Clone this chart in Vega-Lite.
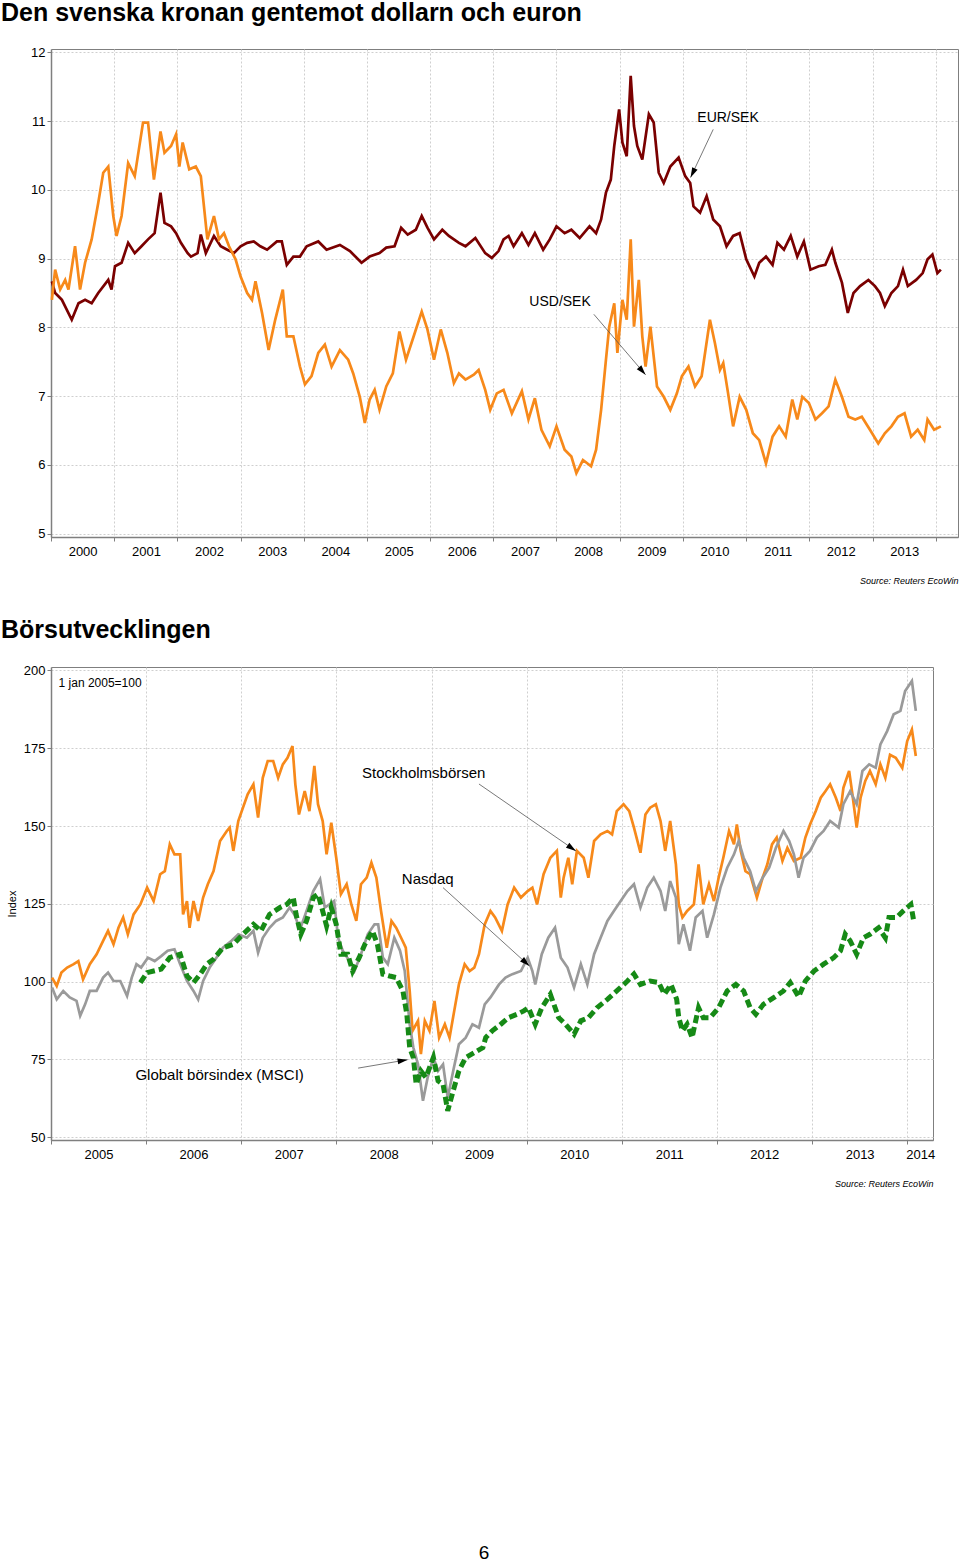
{
"$schema":"https://vega.github.io/schema/vega-lite/v6.json",
"background":"white",
"padding":0,
"autosize":{"type":"pad"},
"config":{"font":"Liberation Sans","view":{"stroke":"#7f7f7f","strokeWidth":1},"axis":{"domainColor":"#7f7f7f","tickColor":"#7f7f7f","gridColor":"#cfcfcf","gridDash":[2,2],"gridWidth":1,"labelColor":"#000","labelFontSize":13,"labelFont":"Liberation Sans","titleColor":"#000","titleFont":"Liberation Sans","labelFlush":false,"labelOverlap":false,"domainWidth":1.5}},
"title":{"text":"6","orient":"bottom","anchor":"middle","fontSize":19,"fontWeight":"normal","color":"#000","offset":355,"baseline":"top"},
"spacing":31,
"vconcat":[
{
"width":907,"height":488,
"title":{"text":"Den svenska kronan gentemot dollarn och euron","anchor":"start","frame":"group","dx":-50,"fontSize":25,"fontWeight":"bold","color":"#000","offset":0,"baseline":"alphabetic"},
"layer":[
{"data":{"name":"eur"},"mark":{"type":"line","color":"#7a0000","strokeWidth":2.7},
 "encoding":{"x":{"field":"d","type":"temporal","scale":{"type":"utc","domain":[{"year":2000,"month":1,"date":1,"utc":true},{"year":2014,"month":5,"date":10,"utc":true}]},
   "axis":{"title":"Source: Reuters EcoWin","titleAnchor":"end","titleFontStyle":"italic","titleFontWeight":"normal","titleFontSize":9,"titlePadding":18,"tickCount":{"interval":"year","step":1},"labelExpr":"utcyear(datum.value) < 2014 ? utcFormat(datum.value, '%Y') : ''","labelOffset":31.6,"labelAlign":"center","labelPadding":4,"tickSize":4,"grid":true}},
  "y":{"field":"v","type":"quantitative","scale":{"domain":[4.95,12.05],"nice":false,"zero":false},"axis":{"title":null,"values":[5,6,7,8,9,10,11,12],"format":"d","grid":true,"tickSize":4,"labelPadding":2}}}},
{"data":{"name":"usd"},"mark":{"type":"line","color":"#f7891a","strokeWidth":2.7},
 "encoding":{"x":{"field":"d","type":"temporal"},"y":{"field":"v","type":"quantitative"}}},
{"data":{"name":"arrowsTop"},"mark":{"type":"rule","color":"#555","strokeWidth":0.8},
 "encoding":{"x":{"field":"d","type":"temporal"},"x2":{"field":"d2"},"y":{"field":"v","type":"quantitative"},"y2":{"field":"v2"}}},
{"data":{"name":"arrowsTop"},"transform":[{"filter":"datum.name == 'EUR'"}],"mark":{"type":"point","shape":"M0,0L-0.3,1L0.3,1Z","filled":true,"color":"#000","opacity":1,"size":400,"angle":205.8},
 "encoding":{"x":{"field":"d2","type":"temporal"},"y":{"field":"v2","type":"quantitative"}}},
{"data":{"name":"arrowsTop"},"transform":[{"filter":"datum.name == 'USD'"}],"mark":{"type":"point","shape":"M0,0L-0.3,1L0.3,1Z","filled":true,"color":"#000","opacity":1,"size":400,"angle":139.3},
 "encoding":{"x":{"field":"d2","type":"temporal"},"y":{"field":"v2","type":"quantitative"}}},
{"data":{"name":"labelsTop"},"mark":{"type":"text","align":"left","baseline":"middle","fontSize":14,"color":"#000"},
 "encoding":{"x":{"field":"d","type":"temporal"},"y":{"field":"v","type":"quantitative"},"text":{"field":"label"}}}
]
},
{
"width":882,"height":473,
"title":{"text":"Börsutvecklingen","anchor":"start","frame":"group","dx":-50,"fontSize":25,"fontWeight":"bold","color":"#000","offset":1,"baseline":"alphabetic"},
"layer":[
{"data":{"name":"omx"},"mark":{"type":"line","color":"#f7891a","strokeWidth":2.7},
 "encoding":{"x":{"field":"d","type":"temporal","scale":{"type":"utc","domain":[{"year":2005,"month":1,"date":1,"utc":true},{"year":2014,"month":4,"date":10,"utc":true}]},
   "axis":{"title":"Source: Reuters EcoWin","titleAnchor":"end","titleFontStyle":"italic","titleFontWeight":"normal","titleFontSize":9,"titlePadding":18,"tickCount":{"interval":"year","step":1},"labelExpr":"utcFormat(datum.value, '%Y')","labelOffset":{"condition":{"test":"utcyear(datum.value) == 2014","value":13},"value":47.5},"labelAlign":"center","labelPadding":4,"tickSize":4,"grid":true}},
  "y":{"field":"v","type":"quantitative","scale":{"domain":[49.1,201.1],"nice":false,"zero":false},"axis":{"title":"Index","titleFontSize":11,"titleFontWeight":"normal","titlePadding":6,"values":[50,75,100,125,150,175,200],"format":"d","grid":true,"tickSize":4,"labelPadding":2}}}},
{"data":{"name":"nasdaq"},"mark":{"type":"line","color":"#9a9a9a","strokeWidth":2.7},
 "encoding":{"x":{"field":"d","type":"temporal"},"y":{"field":"v","type":"quantitative"}}},
{"data":{"name":"msci"},"mark":{"type":"line","color":"#168a16","strokeWidth":5,"strokeDash":[8,4],"strokeCap":"butt"},
 "encoding":{"x":{"field":"d","type":"temporal"},"y":{"field":"v","type":"quantitative"}}},
{"data":{"name":"arrowsBot"},"mark":{"type":"rule","color":"#555","strokeWidth":0.8},
 "encoding":{"x":{"field":"d","type":"temporal"},"x2":{"field":"d2"},"y":{"field":"v","type":"quantitative"},"y2":{"field":"v2"}}},
{"data":{"name":"arrowsBot"},"transform":[{"filter":"datum.name == 'OMX'"}],"mark":{"type":"point","shape":"M0,0L-0.3,1L0.3,1Z","filled":true,"color":"#000","opacity":1,"size":400,"angle":124.6},
 "encoding":{"x":{"field":"d2","type":"temporal"},"y":{"field":"v2","type":"quantitative"}}},
{"data":{"name":"arrowsBot"},"transform":[{"filter":"datum.name == 'NAS'"}],"mark":{"type":"point","shape":"M0,0L-0.3,1L0.3,1Z","filled":true,"color":"#000","opacity":1,"size":400,"angle":132.1},
 "encoding":{"x":{"field":"d2","type":"temporal"},"y":{"field":"v2","type":"quantitative"}}},
{"data":{"name":"arrowsBot"},"transform":[{"filter":"datum.name == 'MSCI'"}],"mark":{"type":"point","shape":"M0,0L-0.3,1L0.3,1Z","filled":true,"color":"#000","opacity":1,"size":400,"angle":80.6},
 "encoding":{"x":{"field":"d2","type":"temporal"},"y":{"field":"v2","type":"quantitative"}}},
{"data":{"name":"labelsBot"},"transform":[{"filter":"datum.size == 'big'"}],"mark":{"type":"text","align":"left","baseline":"middle","fontSize":15,"color":"#000"},
 "encoding":{"x":{"field":"d","type":"temporal"},"y":{"field":"v","type":"quantitative"},"text":{"field":"label"}}},
{"data":{"name":"labelsBot"},"transform":[{"filter":"datum.size == 'small'"}],"mark":{"type":"text","align":"left","baseline":"middle","fontSize":12,"color":"#000"},
 "encoding":{"x":{"field":"d","type":"temporal"},"y":{"field":"v","type":"quantitative"},"text":{"field":"label"}}}
]
}
],
"datasets":{
"arrowsTop":[{"name":"EUR","d":"2010-06-25","v":10.88,"d2":"2010-02-14","v2":10.18},{"name":"USD","d":"2008-08-04","v":8.19,"d2":"2009-05-30","v2":7.31}],
"labelsTop":[{"label":"EUR/SEK","d":"2010-03-25","v":11.05},{"label":"USD/SEK","d":"2007-07-28","v":8.37}],
"arrowsBot":[{"name":"OMX","d":"2009-07-02","v":163.5,"d2":"2010-07-09","v2":142.0},{"name":"NAS","d":"2009-02-14","v":130.2,"d2":"2010-01-12","v2":105.0},{"name":"MSCI","d":"2008-03-25","v":72.2,"d2":"2008-10-01","v2":74.9}],
"labelsBot":[{"label":"1 jan 2005=100","size":"small","d":"2005-01-30","v":196.0},{"label":"Stockholmsbörsen","size":"big","d":"2008-04-09","v":167.1},{"label":"Nasdaq","size":"big","d":"2008-09-09","v":133.0},{"label":"Globalt börsindex (MSCI)","size":"big","d":"2005-11-21","v":70.0}],
"eur":[{"d":"2000-01-06","v":8.67},{"d":"2000-01-25","v":8.50},{"d":"2000-03-04","v":8.40},{"d":"2000-04-30","v":8.11},{"d":"2000-06-08","v":8.35},{"d":"2000-07-16","v":8.40},{"d":"2000-08-23","v":8.35},{"d":"2000-09-30","v":8.50},{"d":"2000-11-27","v":8.69},{"d":"2000-12-16","v":8.55},{"d":"2001-01-05","v":8.89},{"d":"2001-02-12","v":8.94},{"d":"2001-03-22","v":9.23},{"d":"2001-04-29","v":9.08},{"d":"2001-06-07","v":9.18},{"d":"2001-07-15","v":9.28},{"d":"2001-08-22","v":9.37},{"d":"2001-09-25","v":9.96},{"d":"2001-10-18","v":9.52},{"d":"2001-11-25","v":9.47},{"d":"2001-12-24","v":9.37},{"d":"2002-01-21","v":9.23},{"d":"2002-03-01","v":9.08},{"d":"2002-03-20","v":9.03},{"d":"2002-04-27","v":9.08},{"d":"2002-05-16","v":9.35},{"d":"2002-06-14","v":9.08},{"d":"2002-07-31","v":9.33},{"d":"2002-09-08","v":9.18},{"d":"2002-10-16","v":9.13},{"d":"2002-11-23","v":9.08},{"d":"2003-01-01","v":9.18},{"d":"2003-02-08","v":9.23},{"d":"2003-03-18","v":9.25},{"d":"2003-04-25","v":9.18},{"d":"2003-06-03","v":9.13},{"d":"2003-07-30","v":9.25},{"d":"2003-08-27","v":9.25},{"d":"2003-09-25","v":8.91},{"d":"2003-11-02","v":9.03},{"d":"2003-12-10","v":9.03},{"d":"2004-01-18","v":9.18},{"d":"2004-03-25","v":9.25},{"d":"2004-05-12","v":9.13},{"d":"2004-07-28","v":9.20},{"d":"2004-09-24","v":9.11},{"d":"2004-11-30","v":8.94},{"d":"2005-01-16","v":9.03},{"d":"2005-03-14","v":9.08},{"d":"2005-04-22","v":9.16},{"d":"2005-06-09","v":9.18},{"d":"2005-07-17","v":9.45},{"d":"2005-08-24","v":9.35},{"d":"2005-10-10","v":9.42},{"d":"2005-11-13","v":9.62},{"d":"2005-12-16","v":9.45},{"d":"2006-01-23","v":9.28},{"d":"2006-03-12","v":9.42},{"d":"2006-04-19","v":9.33},{"d":"2006-06-16","v":9.23},{"d":"2006-07-24","v":9.18},{"d":"2006-09-19","v":9.30},{"d":"2006-11-15","v":9.08},{"d":"2006-12-23","v":9.01},{"d":"2007-01-31","v":9.11},{"d":"2007-03-01","v":9.28},{"d":"2007-03-30","v":9.33},{"d":"2007-04-28","v":9.18},{"d":"2007-06-15","v":9.37},{"d":"2007-07-23","v":9.20},{"d":"2007-08-29","v":9.37},{"d":"2007-10-16","v":9.13},{"d":"2007-11-23","v":9.28},{"d":"2008-01-01","v":9.47},{"d":"2008-02-17","v":9.37},{"d":"2008-03-27","v":9.42},{"d":"2008-05-14","v":9.30},{"d":"2008-07-10","v":9.47},{"d":"2008-08-17","v":9.37},{"d":"2008-09-15","v":9.57},{"d":"2008-10-13","v":9.96},{"d":"2008-11-10","v":10.15},{"d":"2008-11-30","v":10.64},{"d":"2008-12-28","v":11.17},{"d":"2009-01-16","v":10.69},{"d":"2009-02-10","v":10.49},{"d":"2009-03-05","v":11.66},{"d":"2009-03-24","v":10.93},{"d":"2009-04-12","v":10.64},{"d":"2009-05-11","v":10.44},{"d":"2009-06-18","v":11.10},{"d":"2009-07-16","v":10.98},{"d":"2009-08-14","v":10.25},{"d":"2009-09-12","v":10.10},{"d":"2009-10-20","v":10.34},{"d":"2009-12-07","v":10.47},{"d":"2010-01-14","v":10.20},{"d":"2010-02-12","v":10.10},{"d":"2010-03-03","v":9.76},{"d":"2010-04-10","v":9.67},{"d":"2010-05-18","v":9.91},{"d":"2010-06-25","v":9.57},{"d":"2010-08-03","v":9.47},{"d":"2010-09-10","v":9.18},{"d":"2010-10-18","v":9.33},{"d":"2010-11-25","v":9.37},{"d":"2011-01-02","v":8.99},{"d":"2011-02-18","v":8.74},{"d":"2011-03-18","v":8.94},{"d":"2011-04-26","v":9.03},{"d":"2011-06-03","v":8.91},{"d":"2011-07-01","v":9.23},{"d":"2011-08-08","v":9.13},{"d":"2011-09-16","v":9.33},{"d":"2011-10-24","v":9.03},{"d":"2011-12-01","v":9.25},{"d":"2012-01-08","v":8.84},{"d":"2012-02-25","v":8.89},{"d":"2012-04-03","v":8.91},{"d":"2012-05-11","v":9.13},{"d":"2012-05-31","v":8.94},{"d":"2012-07-08","v":8.65},{"d":"2012-08-11","v":8.21},{"d":"2012-09-13","v":8.50},{"d":"2012-10-21","v":8.60},{"d":"2012-12-08","v":8.69},{"d":"2013-01-15","v":8.60},{"d":"2013-02-13","v":8.50},{"d":"2013-03-13","v":8.31},{"d":"2013-04-20","v":8.50},{"d":"2013-05-28","v":8.60},{"d":"2013-06-26","v":8.84},{"d":"2013-07-24","v":8.60},{"d":"2013-09-10","v":8.69},{"d":"2013-10-18","v":8.79},{"d":"2013-11-15","v":8.99},{"d":"2013-12-13","v":9.06},{"d":"2014-01-11","v":8.79},{"d":"2014-01-31","v":8.84}],
"usd":[{"d":"2000-01-06","v":8.40},{"d":"2000-01-25","v":8.84},{"d":"2000-02-23","v":8.55},{"d":"2000-03-23","v":8.69},{"d":"2000-04-11","v":8.55},{"d":"2000-05-19","v":9.18},{"d":"2000-06-17","v":8.55},{"d":"2000-07-16","v":8.94},{"d":"2000-08-23","v":9.28},{"d":"2000-09-30","v":9.81},{"d":"2000-10-29","v":10.25},{"d":"2000-11-27","v":10.34},{"d":"2000-12-26","v":9.62},{"d":"2001-01-14","v":9.33},{"d":"2001-02-12","v":9.62},{"d":"2001-03-22","v":10.39},{"d":"2001-04-29","v":10.20},{"d":"2001-06-16","v":10.98},{"d":"2001-07-15","v":10.98},{"d":"2001-08-18","v":10.15},{"d":"2001-09-25","v":10.85},{"d":"2001-10-18","v":10.54},{"d":"2001-11-25","v":10.64},{"d":"2001-12-24","v":10.81},{"d":"2002-01-12","v":10.34},{"d":"2002-01-31","v":10.69},{"d":"2002-03-10","v":10.30},{"d":"2002-04-17","v":10.34},{"d":"2002-05-16","v":10.20},{"d":"2002-06-23","v":9.28},{"d":"2002-07-31","v":9.62},{"d":"2002-08-29","v":9.28},{"d":"2002-09-27","v":9.37},{"d":"2002-10-26","v":9.18},{"d":"2002-12-03","v":8.99},{"d":"2003-01-01","v":8.74},{"d":"2003-02-08","v":8.50},{"d":"2003-03-08","v":8.40},{"d":"2003-03-28","v":8.67},{"d":"2003-05-05","v":8.21},{"d":"2003-06-12","v":7.67},{"d":"2003-07-20","v":8.11},{"d":"2003-09-02","v":8.55},{"d":"2003-09-25","v":7.87},{"d":"2003-11-02","v":7.87},{"d":"2003-12-10","v":7.43},{"d":"2004-01-08","v":7.17},{"d":"2004-02-15","v":7.29},{"d":"2004-03-25","v":7.63},{"d":"2004-05-02","v":7.75},{"d":"2004-06-10","v":7.43},{"d":"2004-07-28","v":7.67},{"d":"2004-09-14","v":7.53},{"d":"2004-10-13","v":7.33},{"d":"2004-11-20","v":6.99},{"d":"2004-12-19","v":6.61},{"d":"2005-01-16","v":6.95},{"d":"2005-02-14","v":7.09},{"d":"2005-03-14","v":6.80},{"d":"2005-04-22","v":7.14},{"d":"2005-05-30","v":7.33},{"d":"2005-07-07","v":7.94},{"d":"2005-08-14","v":7.53},{"d":"2005-09-21","v":7.82},{"d":"2005-11-13","v":8.23},{"d":"2005-12-16","v":7.97},{"d":"2006-01-23","v":7.53},{"d":"2006-03-03","v":7.97},{"d":"2006-04-10","v":7.63},{"d":"2006-05-18","v":7.19},{"d":"2006-06-16","v":7.33},{"d":"2006-07-24","v":7.24},{"d":"2006-09-10","v":7.31},{"d":"2006-10-08","v":7.38},{"d":"2006-11-15","v":7.09},{"d":"2006-12-14","v":6.80},{"d":"2007-01-21","v":7.04},{"d":"2007-03-01","v":7.09},{"d":"2007-04-18","v":6.75},{"d":"2007-06-15","v":7.07},{"d":"2007-07-23","v":6.66},{"d":"2007-08-29","v":6.97},{"d":"2007-10-06","v":6.51},{"d":"2007-11-23","v":6.27},{"d":"2008-01-01","v":6.56},{"d":"2008-02-17","v":6.22},{"d":"2008-03-27","v":6.12},{"d":"2008-04-25","v":5.88},{"d":"2008-06-02","v":6.07},{"d":"2008-07-19","v":5.98},{"d":"2008-08-17","v":6.22},{"d":"2008-09-15","v":6.80},{"d":"2008-10-13","v":7.53},{"d":"2008-11-01","v":8.01},{"d":"2008-11-30","v":8.35},{"d":"2008-12-18","v":7.63},{"d":"2009-01-16","v":8.40},{"d":"2009-02-10","v":8.11},{"d":"2009-03-05","v":9.28},{"d":"2009-03-24","v":8.01},{"d":"2009-04-21","v":8.69},{"d":"2009-05-11","v":7.87},{"d":"2009-05-30","v":7.43},{"d":"2009-06-27","v":8.01},{"d":"2009-08-04","v":7.14},{"d":"2009-09-12","v":6.99},{"d":"2009-10-20","v":6.80},{"d":"2009-11-27","v":7.04},{"d":"2009-12-26","v":7.29},{"d":"2010-02-02","v":7.43},{"d":"2010-03-12","v":7.14},{"d":"2010-04-19","v":7.29},{"d":"2010-06-06","v":8.11},{"d":"2010-07-05","v":7.77},{"d":"2010-08-03","v":7.38},{"d":"2010-08-22","v":7.48},{"d":"2010-09-19","v":7.04},{"d":"2010-10-18","v":6.56},{"d":"2010-11-25","v":6.99},{"d":"2011-01-02","v":6.80},{"d":"2011-02-09","v":6.46},{"d":"2011-03-18","v":6.36},{"d":"2011-04-26","v":6.02},{"d":"2011-06-03","v":6.41},{"d":"2011-07-11","v":6.56},{"d":"2011-08-18","v":6.41},{"d":"2011-09-25","v":6.95},{"d":"2011-10-24","v":6.66},{"d":"2011-11-22","v":6.99},{"d":"2011-12-30","v":6.90},{"d":"2012-02-06","v":6.66},{"d":"2012-03-15","v":6.75},{"d":"2012-04-22","v":6.85},{"d":"2012-05-31","v":7.24},{"d":"2012-07-08","v":6.99},{"d":"2012-08-15","v":6.70},{"d":"2012-09-23","v":6.66},{"d":"2012-10-31","v":6.70},{"d":"2012-12-17","v":6.51},{"d":"2013-02-03","v":6.31},{"d":"2013-03-13","v":6.46},{"d":"2013-04-20","v":6.56},{"d":"2013-05-28","v":6.70},{"d":"2013-07-05","v":6.75},{"d":"2013-08-12","v":6.41},{"d":"2013-09-19","v":6.51},{"d":"2013-10-27","v":6.36},{"d":"2013-11-15","v":6.66},{"d":"2013-12-23","v":6.51},{"d":"2014-01-31","v":6.56}],
"omx":[{"d":"2005-01-05","v":101.3},{"d":"2005-01-23","v":98.6},{"d":"2005-02-10","v":102.9},{"d":"2005-03-04","v":104.5},{"d":"2005-03-29","v":105.6},{"d":"2005-04-16","v":106.6},{"d":"2005-05-04","v":100.7},{"d":"2005-05-30","v":105.6},{"d":"2005-06-25","v":108.8},{"d":"2005-07-20","v":113.1},{"d":"2005-08-08","v":116.3},{"d":"2005-08-29","v":112.0},{"d":"2005-09-17","v":117.3},{"d":"2005-10-05","v":120.6},{"d":"2005-10-23","v":115.2},{"d":"2005-11-14","v":121.6},{"d":"2005-12-10","v":124.8},{"d":"2006-01-05","v":130.2},{"d":"2006-01-30","v":125.9},{"d":"2006-02-24","v":134.5},{"d":"2006-03-14","v":135.5},{"d":"2006-04-02","v":144.1},{"d":"2006-04-20","v":140.9},{"d":"2006-05-12","v":140.9},{"d":"2006-05-23","v":121.6},{"d":"2006-06-07","v":125.9},{"d":"2006-06-17","v":117.3},{"d":"2006-07-02","v":125.9},{"d":"2006-07-20","v":119.5},{"d":"2006-08-08","v":127.0},{"d":"2006-08-26","v":131.3},{"d":"2006-09-17","v":135.5},{"d":"2006-10-12","v":145.2},{"d":"2006-11-07","v":148.4},{"d":"2006-11-18","v":149.5},{"d":"2006-12-02","v":142.0},{"d":"2006-12-21","v":151.6},{"d":"2007-01-08","v":155.9},{"d":"2007-01-26","v":160.2},{"d":"2007-02-17","v":163.4},{"d":"2007-03-07","v":152.7},{"d":"2007-03-25","v":165.5},{"d":"2007-04-13","v":170.9},{"d":"2007-05-04","v":170.9},{"d":"2007-05-23","v":165.5},{"d":"2007-06-10","v":169.8},{"d":"2007-06-28","v":171.9},{"d":"2007-07-17","v":175.7},{"d":"2007-07-28","v":163.4},{"d":"2007-08-11","v":153.7},{"d":"2007-09-02","v":161.2},{"d":"2007-09-20","v":154.8},{"d":"2007-10-09","v":169.3},{"d":"2007-10-23","v":157.0},{"d":"2007-11-10","v":151.6},{"d":"2007-11-25","v":140.9},{"d":"2007-12-13","v":151.1},{"d":"2008-01-01","v":139.8},{"d":"2008-01-19","v":128.1},{"d":"2008-02-10","v":131.3},{"d":"2008-02-28","v":124.8},{"d":"2008-03-18","v":119.5},{"d":"2008-04-05","v":131.3},{"d":"2008-04-27","v":133.4},{"d":"2008-05-15","v":138.2},{"d":"2008-06-03","v":133.4},{"d":"2008-06-21","v":122.7},{"d":"2008-07-13","v":110.9},{"d":"2008-07-31","v":119.5},{"d":"2008-08-18","v":117.3},{"d":"2008-09-06","v":114.1},{"d":"2008-09-24","v":110.9},{"d":"2008-10-09","v":97.0},{"d":"2008-10-20","v":84.2},{"d":"2008-11-10","v":87.4},{"d":"2008-11-21","v":76.7},{"d":"2008-12-06","v":87.4},{"d":"2008-12-24","v":84.2},{"d":"2009-01-12","v":93.8},{"d":"2009-01-30","v":82.0},{"d":"2009-02-21","v":86.3},{"d":"2009-03-11","v":82.0},{"d":"2009-03-29","v":90.6},{"d":"2009-04-16","v":99.1},{"d":"2009-05-08","v":105.6},{"d":"2009-05-27","v":103.4},{"d":"2009-06-14","v":104.5},{"d":"2009-07-02","v":108.8},{"d":"2009-07-24","v":118.4},{"d":"2009-08-15","v":122.7},{"d":"2009-09-02","v":120.6},{"d":"2009-09-28","v":116.3},{"d":"2009-10-20","v":124.8},{"d":"2009-11-14","v":130.2},{"d":"2009-12-10","v":127.0},{"d":"2010-01-05","v":129.1},{"d":"2010-01-23","v":130.2},{"d":"2010-02-10","v":124.8},{"d":"2010-03-07","v":134.5},{"d":"2010-04-02","v":139.8},{"d":"2010-04-27","v":142.0},{"d":"2010-05-12","v":127.0},{"d":"2010-05-23","v":133.4},{"d":"2010-06-10","v":139.8},{"d":"2010-06-25","v":131.3},{"d":"2010-07-13","v":142.0},{"d":"2010-08-08","v":139.8},{"d":"2010-08-26","v":133.4},{"d":"2010-09-17","v":145.2},{"d":"2010-10-12","v":147.3},{"d":"2010-11-07","v":148.4},{"d":"2010-11-25","v":147.3},{"d":"2010-12-13","v":154.8},{"d":"2011-01-08","v":157.0},{"d":"2011-01-30","v":154.8},{"d":"2011-02-17","v":149.5},{"d":"2011-03-14","v":141.4},{"d":"2011-04-02","v":153.7},{"d":"2011-04-20","v":155.9},{"d":"2011-05-12","v":157.0},{"d":"2011-05-30","v":151.6},{"d":"2011-06-17","v":142.0},{"d":"2011-07-06","v":151.6},{"d":"2011-07-28","v":137.7},{"d":"2011-08-08","v":124.8},{"d":"2011-08-22","v":120.6},{"d":"2011-09-09","v":122.7},{"d":"2011-10-05","v":124.8},{"d":"2011-10-23","v":137.7},{"d":"2011-11-10","v":124.8},{"d":"2011-12-02","v":131.3},{"d":"2011-12-21","v":125.9},{"d":"2012-01-08","v":133.4},{"d":"2012-01-26","v":139.8},{"d":"2012-02-17","v":148.4},{"d":"2012-03-07","v":144.1},{"d":"2012-03-18","v":150.5},{"d":"2012-04-02","v":142.0},{"d":"2012-04-20","v":135.5},{"d":"2012-05-08","v":134.5},{"d":"2012-06-03","v":127.0},{"d":"2012-06-25","v":133.4},{"d":"2012-07-13","v":137.7},{"d":"2012-07-31","v":144.1},{"d":"2012-08-18","v":146.3},{"d":"2012-09-09","v":138.8},{"d":"2012-09-28","v":143.0},{"d":"2012-10-23","v":138.8},{"d":"2012-11-18","v":139.8},{"d":"2012-12-06","v":146.3},{"d":"2012-12-24","v":150.5},{"d":"2013-01-15","v":154.8},{"d":"2013-02-03","v":159.1},{"d":"2013-02-21","v":161.2},{"d":"2013-03-11","v":163.4},{"d":"2013-04-02","v":159.1},{"d":"2013-04-20","v":154.8},{"d":"2013-05-01","v":162.3},{"d":"2013-05-23","v":167.7},{"d":"2013-06-03","v":161.2},{"d":"2013-06-21","v":149.5},{"d":"2013-07-06","v":159.1},{"d":"2013-07-24","v":164.5},{"d":"2013-08-11","v":167.7},{"d":"2013-09-02","v":163.4},{"d":"2013-09-20","v":169.8},{"d":"2013-10-09","v":165.5},{"d":"2013-10-27","v":172.9},{"d":"2013-11-18","v":171.9},{"d":"2013-12-13","v":168.7},{"d":"2014-01-01","v":177.3},{"d":"2014-01-19","v":181.0},{"d":"2014-02-03","v":172.5}],
"nasdaq":[{"d":"2005-01-05","v":98.1},{"d":"2005-01-23","v":94.3},{"d":"2005-02-17","v":97.0},{"d":"2005-03-14","v":94.9},{"d":"2005-04-09","v":93.8},{"d":"2005-04-23","v":89.0},{"d":"2005-05-12","v":92.7},{"d":"2005-05-30","v":97.0},{"d":"2005-06-25","v":97.0},{"d":"2005-07-20","v":101.3},{"d":"2005-08-08","v":102.9},{"d":"2005-08-29","v":100.2},{"d":"2005-09-24","v":100.2},{"d":"2005-10-20","v":95.4},{"d":"2005-11-07","v":101.3},{"d":"2005-11-25","v":105.6},{"d":"2005-12-13","v":104.5},{"d":"2006-01-08","v":107.7},{"d":"2006-02-03","v":106.6},{"d":"2006-02-28","v":108.2},{"d":"2006-03-25","v":109.9},{"d":"2006-04-20","v":110.4},{"d":"2006-05-12","v":105.6},{"d":"2006-06-07","v":100.2},{"d":"2006-07-02","v":97.0},{"d":"2006-07-20","v":94.3},{"d":"2006-08-08","v":100.2},{"d":"2006-09-02","v":104.5},{"d":"2006-09-28","v":107.7},{"d":"2006-10-23","v":110.9},{"d":"2006-11-25","v":113.1},{"d":"2006-12-21","v":115.2},{"d":"2007-01-23","v":114.1},{"d":"2007-02-17","v":116.3},{"d":"2007-03-07","v":109.3},{"d":"2007-03-25","v":114.1},{"d":"2007-04-20","v":117.3},{"d":"2007-05-15","v":119.5},{"d":"2007-06-10","v":120.6},{"d":"2007-07-06","v":123.8},{"d":"2007-07-24","v":121.6},{"d":"2007-08-15","v":116.8},{"d":"2007-09-09","v":122.7},{"d":"2007-10-05","v":129.1},{"d":"2007-10-31","v":132.9},{"d":"2007-11-18","v":123.8},{"d":"2007-12-06","v":124.8},{"d":"2007-12-24","v":125.9},{"d":"2008-01-08","v":114.1},{"d":"2008-01-26","v":109.9},{"d":"2008-02-21","v":106.6},{"d":"2008-03-11","v":103.4},{"d":"2008-04-05","v":108.8},{"d":"2008-05-01","v":115.2},{"d":"2008-05-27","v":118.4},{"d":"2008-06-10","v":118.4},{"d":"2008-06-28","v":107.7},{"d":"2008-07-17","v":105.6},{"d":"2008-08-11","v":114.1},{"d":"2008-09-02","v":109.9},{"d":"2008-09-20","v":103.4},{"d":"2008-10-09","v":86.3},{"d":"2008-10-23","v":78.8},{"d":"2008-11-10","v":73.4},{"d":"2008-11-29","v":61.7},{"d":"2008-12-17","v":69.2},{"d":"2009-01-08","v":75.6},{"d":"2009-01-26","v":71.3},{"d":"2009-02-14","v":73.4},{"d":"2009-03-04","v":62.7},{"d":"2009-03-25","v":71.3},{"d":"2009-04-16","v":79.9},{"d":"2009-05-12","v":82.0},{"d":"2009-06-07","v":86.3},{"d":"2009-07-02","v":85.2},{"d":"2009-07-24","v":92.7},{"d":"2009-08-15","v":94.9},{"d":"2009-09-17","v":99.1},{"d":"2009-10-12","v":101.3},{"d":"2009-11-07","v":102.4},{"d":"2009-12-10","v":103.4},{"d":"2010-01-05","v":107.7},{"d":"2010-01-23","v":103.4},{"d":"2010-02-03","v":99.1},{"d":"2010-02-28","v":108.8},{"d":"2010-03-25","v":114.1},{"d":"2010-04-20","v":117.3},{"d":"2010-05-12","v":107.7},{"d":"2010-06-07","v":104.5},{"d":"2010-07-02","v":98.1},{"d":"2010-07-28","v":105.6},{"d":"2010-08-22","v":99.1},{"d":"2010-09-17","v":108.8},{"d":"2010-10-12","v":114.1},{"d":"2010-11-07","v":119.5},{"d":"2010-12-02","v":122.7},{"d":"2010-12-28","v":125.9},{"d":"2011-01-23","v":129.1},{"d":"2011-02-17","v":131.3},{"d":"2011-03-14","v":123.8},{"d":"2011-04-09","v":130.2},{"d":"2011-05-04","v":133.4},{"d":"2011-05-30","v":129.1},{"d":"2011-06-17","v":122.7},{"d":"2011-07-06","v":132.3},{"d":"2011-07-28","v":127.0},{"d":"2011-08-08","v":112.0},{"d":"2011-08-26","v":118.4},{"d":"2011-09-20","v":109.9},{"d":"2011-10-12","v":120.6},{"d":"2011-11-07","v":122.7},{"d":"2011-11-25","v":114.1},{"d":"2011-12-21","v":121.6},{"d":"2012-01-15","v":130.2},{"d":"2012-02-10","v":136.6},{"d":"2012-03-07","v":140.9},{"d":"2012-03-25","v":145.2},{"d":"2012-04-13","v":139.8},{"d":"2012-05-08","v":135.5},{"d":"2012-05-30","v":129.1},{"d":"2012-06-25","v":133.4},{"d":"2012-07-20","v":136.6},{"d":"2012-08-15","v":143.0},{"d":"2012-09-13","v":148.4},{"d":"2012-10-05","v":145.2},{"d":"2012-10-23","v":140.9},{"d":"2012-11-10","v":133.4},{"d":"2012-11-29","v":139.8},{"d":"2012-12-24","v":142.0},{"d":"2013-01-19","v":146.3},{"d":"2013-02-14","v":148.4},{"d":"2013-03-11","v":151.6},{"d":"2013-04-13","v":149.5},{"d":"2013-05-01","v":157.0},{"d":"2013-05-27","v":161.2},{"d":"2013-06-21","v":157.0},{"d":"2013-07-13","v":167.7},{"d":"2013-08-08","v":169.8},{"d":"2013-09-02","v":168.7},{"d":"2013-09-20","v":176.2},{"d":"2013-10-16","v":180.5},{"d":"2013-11-10","v":185.9},{"d":"2013-12-06","v":187.0},{"d":"2013-12-24","v":193.4},{"d":"2014-01-19","v":196.6},{"d":"2014-02-03","v":187.0}],
"msci":[{"d":"2005-12-10","v":99.7},{"d":"2006-01-05","v":102.9},{"d":"2006-01-30","v":103.4},{"d":"2006-02-28","v":104.0},{"d":"2006-04-02","v":107.7},{"d":"2006-05-12","v":108.8},{"d":"2006-06-07","v":101.8},{"d":"2006-07-02","v":99.7},{"d":"2006-07-28","v":102.4},{"d":"2006-08-22","v":105.6},{"d":"2006-09-17","v":107.2},{"d":"2006-10-23","v":110.9},{"d":"2006-12-02","v":112.0},{"d":"2007-01-08","v":115.2},{"d":"2007-02-17","v":118.4},{"d":"2007-03-18","v":116.3},{"d":"2007-04-20","v":121.6},{"d":"2007-05-30","v":123.8},{"d":"2007-06-25","v":124.8},{"d":"2007-07-20","v":127.0},{"d":"2007-07-31","v":121.6},{"d":"2007-08-18","v":115.2},{"d":"2007-09-09","v":119.5},{"d":"2007-10-05","v":127.0},{"d":"2007-10-23","v":128.1},{"d":"2007-11-10","v":122.7},{"d":"2007-11-25","v":117.9},{"d":"2007-12-13","v":123.8},{"d":"2008-01-01","v":118.4},{"d":"2008-01-19","v":108.8},{"d":"2008-02-14","v":108.8},{"d":"2008-03-04","v":103.4},{"d":"2008-03-29","v":107.7},{"d":"2008-04-20","v":112.0},{"d":"2008-05-19","v":116.3},{"d":"2008-06-07","v":112.0},{"d":"2008-06-28","v":102.4},{"d":"2008-07-24","v":101.8},{"d":"2008-08-18","v":101.3},{"d":"2008-09-13","v":97.0},{"d":"2008-09-28","v":89.5},{"d":"2008-10-09","v":78.8},{"d":"2008-10-23","v":75.6},{"d":"2008-11-03","v":67.0},{"d":"2008-11-21","v":71.3},{"d":"2008-12-10","v":69.2},{"d":"2009-01-08","v":75.6},{"d":"2009-01-26","v":68.1},{"d":"2009-02-14","v":67.0},{"d":"2009-03-04","v":58.5},{"d":"2009-03-25","v":64.9},{"d":"2009-04-16","v":71.3},{"d":"2009-05-12","v":75.6},{"d":"2009-06-14","v":77.2},{"d":"2009-07-17","v":78.8},{"d":"2009-07-28","v":82.0},{"d":"2009-08-22","v":84.2},{"d":"2009-09-24","v":86.3},{"d":"2009-10-23","v":88.4},{"d":"2009-11-25","v":89.5},{"d":"2009-12-21","v":90.6},{"d":"2010-01-08","v":91.6},{"d":"2010-02-03","v":86.3},{"d":"2010-02-28","v":91.6},{"d":"2010-04-02","v":95.9},{"d":"2010-05-04","v":88.4},{"d":"2010-05-30","v":86.3},{"d":"2010-07-02","v":83.1},{"d":"2010-07-28","v":87.4},{"d":"2010-08-26","v":88.4},{"d":"2010-09-28","v":91.6},{"d":"2010-11-07","v":94.3},{"d":"2010-12-13","v":97.0},{"d":"2011-01-23","v":100.2},{"d":"2011-02-17","v":102.4},{"d":"2011-03-14","v":99.1},{"d":"2011-04-20","v":100.2},{"d":"2011-05-23","v":99.7},{"d":"2011-06-14","v":95.9},{"d":"2011-07-09","v":99.1},{"d":"2011-07-31","v":94.3},{"d":"2011-08-08","v":88.4},{"d":"2011-08-22","v":84.2},{"d":"2011-09-09","v":86.3},{"d":"2011-09-28","v":82.0},{"d":"2011-10-23","v":91.6},{"d":"2011-11-10","v":88.4},{"d":"2011-12-06","v":88.4},{"d":"2012-01-08","v":91.6},{"d":"2012-02-10","v":97.0},{"d":"2012-03-14","v":99.1},{"d":"2012-04-13","v":97.0},{"d":"2012-05-08","v":91.6},{"d":"2012-05-30","v":89.5},{"d":"2012-06-28","v":92.7},{"d":"2012-08-08","v":94.9},{"d":"2012-09-13","v":97.0},{"d":"2012-10-09","v":99.7},{"d":"2012-11-10","v":95.1},{"d":"2012-12-06","v":100.2},{"d":"2013-01-08","v":103.4},{"d":"2013-02-14","v":105.6},{"d":"2013-03-25","v":107.7},{"d":"2013-04-20","v":109.9},{"d":"2013-05-08","v":115.2},{"d":"2013-05-27","v":113.1},{"d":"2013-06-21","v":108.8},{"d":"2013-07-17","v":114.1},{"d":"2013-08-11","v":115.2},{"d":"2013-09-13","v":117.3},{"d":"2013-10-09","v":114.1},{"d":"2013-10-23","v":120.6},{"d":"2013-11-21","v":120.6},{"d":"2013-12-17","v":122.7},{"d":"2014-01-15","v":124.8},{"d":"2014-01-26","v":119.5}]
}
}
